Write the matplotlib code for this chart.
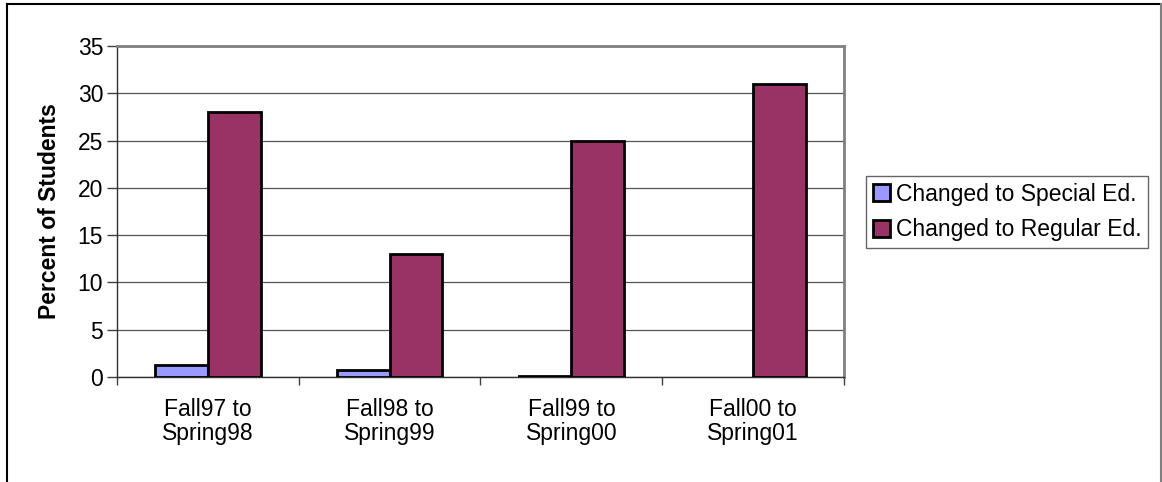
import numpy as np
import matplotlib
matplotlib.use('Agg')
import matplotlib.pyplot as plt
from matplotlib.lines import Line2D

plt.rcParams['font.family'] = ['Liberation Sans', 'DejaVu Sans']

categories = ['Fall97 to\nSpring98', 'Fall98 to\nSpring99', 'Fall99 to\nSpring00', 'Fall00 to\nSpring01']
special_ed = [1.3, 0.7, 0.1, 0.0]
regular_ed = [28, 13, 25, 31]

W, H = 1162, 482
fs = 16.5
fig = plt.figure(figsize=(W / 100, H / 100), dpi=100)
ax = fig.add_axes([117 / W, 1 - 377 / H, (844 - 117) / W, (377 - 46) / H])

x = np.arange(len(categories))
bw = 0.29
b1 = ax.bar(x - bw / 2, special_ed, bw, color='#9999FF', edgecolor='black', lw=2,
            label='Changed to Special Ed.', zorder=3)
ax.bar(x + bw / 2, regular_ed, bw, color='#993366', edgecolor='black', lw=2,
       label='Changed to Regular Ed.', zorder=3)
for p, v in zip(b1, special_ed):
    if v == 0:
        p.set_visible(False)

ax.set_xlim(-0.5, len(categories) - 0.5)
ax.set_ylim(0, 35)
ax.set_yticks(range(0, 36, 5))
ax.yaxis.grid(True, color='#555555', lw=0.9, zorder=0)
ax.set_axisbelow(True)

# ticks at category boundaries, labels centred under groups
ax.set_xticks(np.arange(-0.5, len(categories)), minor=False)
ax.set_xticklabels([])
ax.set_xticks(x, minor=True)
ax.set_xticklabels(categories, minor=True, fontsize=fs, linespacing=1.05)
ax.tick_params(axis='x', which='minor', length=0, pad=15)
ax.tick_params(axis='x', which='major', length=6, color='#404040', width=1)
ax.tick_params(axis='y', length=7, color='#404040', width=1, labelsize=fs, pad=3)

for s in ['top', 'right']:
    ax.spines[s].set_color('#808080')
    ax.spines[s].set_linewidth(2)
for s in ['left', 'bottom']:
    ax.spines[s].set_color('#303030')
    ax.spines[s].set_linewidth(1)

ax.set_ylabel('Percent of Students', fontsize=fs, fontweight='bold', labelpad=12)

leg = ax.legend(loc='center left', bbox_to_anchor=(866 / W, 1 - 212 / H),
                bbox_transform=fig.transFigure, fontsize=fs, frameon=True, fancybox=False,
                handlelength=0.75, handleheight=0.75, handletextpad=0.25, borderpad=0.3,
                labelspacing=0.55, borderaxespad=0)
leg.get_frame().set_edgecolor('#404040')
leg.get_frame().set_linewidth(1)

# outer chart border
fig.add_artist(Line2D([7 / W, 1161 / W], [1 - 4 / H, 1 - 4 / H], color='black', lw=1.5, transform=fig.transFigure))
fig.add_artist(Line2D([7 / W, 7 / W], [0, 1 - 4 / H], color='black', lw=1.5, transform=fig.transFigure))
fig.add_artist(Line2D([1161 / W, 1161 / W], [0, 1 - 4 / H], color='#808080', lw=1.5, transform=fig.transFigure))

fig.savefig('out.png', dpi=100)
